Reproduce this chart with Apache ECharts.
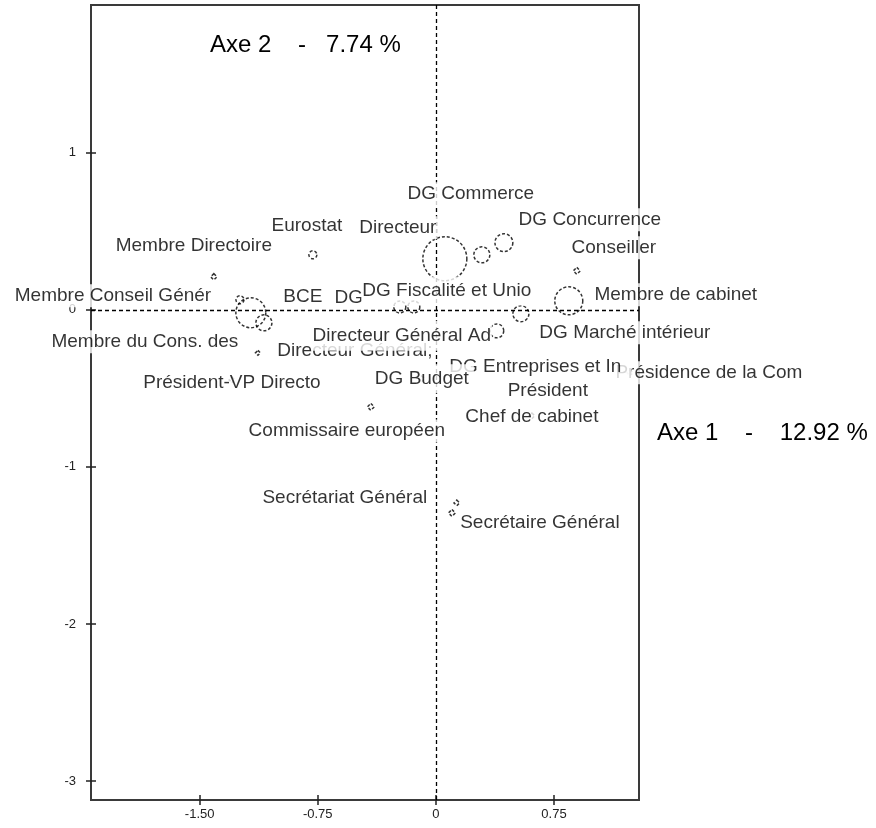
<!DOCTYPE html>
<html><head><meta charset="utf-8">
<script src="https://cdn.jsdelivr.net/npm/echarts@6/dist/echarts.min.js"></script>
<style>html,body{margin:0;padding:0;background:#fff}#c{width:876px;height:828px}</style>
</head><body><div id="c"></div>
<script>
// ---- data (draw order: later items are drawn on top) ----
const modalites = [
  'Présidence de la Com', 'DG Entreprises et In', 'Président', 'Chef de cabinet',
  'DG Budget', 'Président-VP Directo', 'Directeur Général;', 'Directeur Général Ad',
  'DG', 'DG Fiscalité et Unio', 'DG Commerce', 'Directeur', 'DG Concurrence',
  'Conseiller', 'Membre de cabinet', 'DG Marché intérieur', 'Eurostat',
  'Membre Directoire', 'Membre Conseil Génér', 'BCE', 'Membre du Cons. des',
  'Commissaire européen', 'Secrétariat Général', 'Secrétaire Général'
];
const axe1 = [1.232, 0.597, 0.711, 0.610, -0.089, -1.295, -1.130, 0.387, -0.229, -0.140, 0.292, 0.057, 0.432,
  0.895, 0.844, 0.540, -0.781, -1.410, -1.244, -1.175, -1.092, -0.413, 0.133, 0.102];
const axe2 = [-0.401, -0.357, -0.503, -0.675, -0.439, -0.446, -0.274, -0.134, 0.018, 0.018, 0.350, 0.325, 0.427,
  0.248, 0.057, -0.025, 0.350, 0.210, 0.064, -0.019, -0.083, -0.618, -1.229, -1.293];
const poids = [2, 2, 2, 2, 2, 2, 1.5, 12, 9, 9, 16, 121, 20,
  3, 49, 16, 4, 2.5, 4, 56, 16, 3, 2, 3];
const xTicks = [-1.5, -0.75, 0, 0.75];
const xTickLabels = ['-1.50', '-0.75', '0', '0.75'];
const yTicks = [-3, -2, -1, 0, 1];
const yTickLabels = ['-3', '-2', '-1', '0', '1'];
const titreAxe1 = 'Axe 1    -    12.92 %';
const titreAxe2 = 'Axe 2    -   7.74 %';

// ---- label placement (pixel offsets from the point, label box paddings: style only) ----
const labelOffsets = [
  [79, 0], [10, 1], [0, 2], [0, 1], [0, 0], [0, 3], [97, -2], [-95, 5],
  [-51, -9], [33, -16], [-11, -61], [-47, -31], [86, -23],
  [37, -23], [107, -6], [104, 19], [-6, -29], [-20, -31], [-127, -4], [52, -16], [-119, 19],
  [-24, 24], [-112, -5], [88, 10]
];
const labelPaddings = {
  1: [2, 10, 2, 1],   // DG Entreprises et In
  4: [8, 5, 2, 5],    // DG Budget
  7: [2, 1, 9, 1],    // Directeur Général Ad
  9: [2, 1, 8, 1]     // DG Fiscalité et Unio
};

const FONT = "'Liberation Sans', Arial, sans-serif";

const markerData = modalites.map((n, i) => ({
  name: n, value: [axe1[i], axe2[i], poids[i]],
  symbol: poids[i] <= 3 ? 'diamond' : 'circle'
}));
const labelData = modalites.map((n, i) => {
  const lab = { offset: labelOffsets[i] };
  if (labelPaddings[i]) lab.padding = labelPaddings[i];
  return { name: n, value: [axe1[i], axe2[i]], label: lab };
});

const tickFmt = (ticks, labels) => v => {
  const k = ticks.findIndex(t => Math.abs(t - v) < 1e-6);
  return k < 0 ? '' : labels[k];
};

const chart = echarts.init(document.getElementById('c'), null, { renderer: 'canvas' });
chart.setOption({
  animation: false,
  backgroundColor: '#fff',
  title: [
    { text: titreAxe2, left: 210, top: 33, padding: 0,
      textStyle: { fontSize: 24, fontWeight: 'normal', fontFamily: FONT, color: '#000' } },
    { text: titreAxe1, left: 657, top: 421, padding: 0,
      textStyle: { fontSize: 24, fontWeight: 'normal', fontFamily: FONT, color: '#000' } }
  ],
  grid: { left: 91, top: 5, right: 237, bottom: 28, show: true,
    borderColor: '#3a3a3a', borderWidth: 2, backgroundColor: 'transparent' },
  xAxis: {
    type: 'value', min: -2.19, max: 1.29, offset: -5,
    axisLine: { show: false, onZero: false }, splitLine: { show: false },
    axisTick: { show: true, length: 10, customValues: xTicks, lineStyle: { color: '#222', width: 1.5 } },
    axisLabel: { customValues: xTicks, margin: 13, fontSize: 13, fontFamily: FONT, color: '#222',
      formatter: tickFmt(xTicks, xTickLabels) }
  },
  yAxis: {
    type: 'value', min: -3.12, max: 1.94, offset: -5,
    axisLine: { show: false, onZero: false }, splitLine: { show: false },
    axisTick: { show: true, length: 10, customValues: yTicks, lineStyle: { color: '#222', width: 1.5 } },
    axisLabel: { customValues: yTicks, margin: 20, fontSize: 13, fontFamily: FONT, color: '#222',
      formatter: tickFmt(yTicks, yTickLabels) }
  },
  series: [
    {
      type: 'scatter', z: 2, silent: true,
      data: markerData,
      symbolSize: v => 4 * Math.sqrt(v[2]),
      itemStyle: { color: 'rgba(0,0,0,0)', borderColor: '#000', borderWidth: 1.5, borderType: [3, 2] },
      markLine: {
        silent: true, symbol: 'none', label: { show: false },
        lineStyle: { color: '#000', type: [4, 3], width: 1.3 },
        data: [{ xAxis: 0 }, { yAxis: 0 }]
      }
    },
    {
      type: 'scatter', z: 5, silent: true,
      data: labelData,
      symbolSize: 0,
      itemStyle: { color: 'rgba(0,0,0,0)' },
      label: {
        show: true, position: 'inside', formatter: p => p.name,
        fontSize: 19, fontFamily: FONT, color: '#000',
        backgroundColor: '#fff', padding: [2, 1, 2, 1]
      }
    }
  ]
});
</script>
</body></html>
